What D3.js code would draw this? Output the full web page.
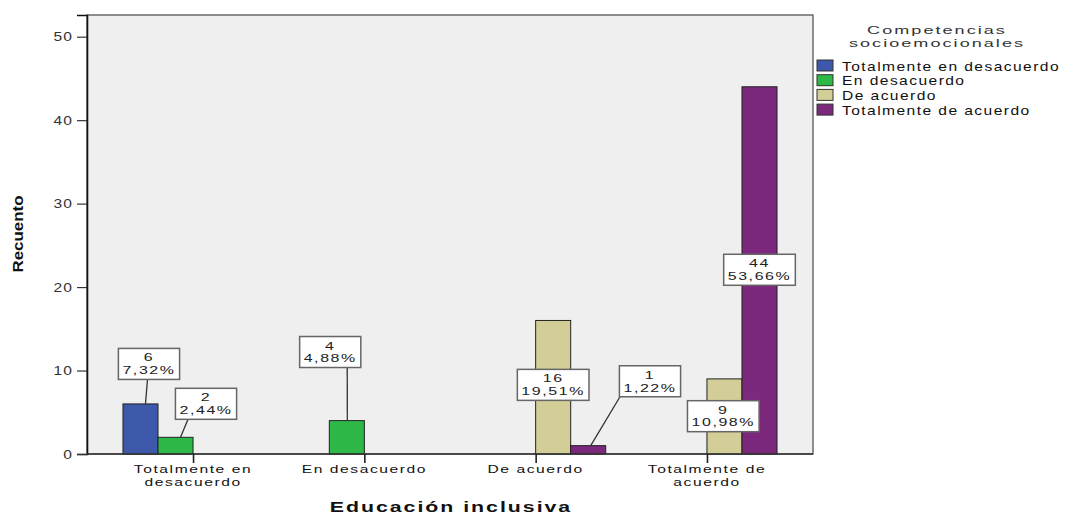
<!DOCTYPE html>
<html>
<head>
<meta charset="utf-8">
<script src="https://cdn.jsdelivr.net/npm/d3@7"></script>
<style>
  html, body { margin: 0; padding: 0; background: #ffffff; }
  svg { display: block; font-family: "Liberation Sans", Arial, sans-serif; }
</style>
</head>
<body>
<svg id="chart" width="1066" height="515"></svg>
<script>
// ---------- data ----------
const categories = ["Totalmente en desacuerdo", "En desacuerdo", "De acuerdo", "Totalmente de acuerdo"];
const categoryLabelLines = [["Totalmente en", "desacuerdo"], ["En desacuerdo"], ["De acuerdo"], ["Totalmente de", "acuerdo"]];
const seriesNames = ["Totalmente en desacuerdo", "En desacuerdo", "De acuerdo", "Totalmente de acuerdo"];
const totalmenteEnDesacuerdo = [6, 0, 0, 0];
const enDesacuerdo = [2, 4, 0, 0];
const deAcuerdo = [0, 0, 16, 9];
const totalmenteDeAcuerdo = [0, 0, 1, 44];
const percentLabels = [
  ["7,32%", null, null, null],
  ["2,44%", "4,88%", null, null],
  [null, null, "19,51%", "10,98%"],
  [null, null, "1,22%", "53,66%"]
];
const yTicks = [0, 10, 20, 30, 40, 50];
const legendTitle = ["Competencias", "socioemocionales"];
const xTitle = "Educación inclusiva";
const yTitle = "Recuento";

const seriesValues = [totalmenteEnDesacuerdo, enDesacuerdo, deAcuerdo, totalmenteDeAcuerdo];
const colors = ["#3e58ac", "#2eb848", "#d3ce97", "#7c287d"];

// callout layout (box offset from bar top-centre; leader start / end offsets)
const callouts = {
  "0-0": { dx: 8.5, dy: -40, ls: 5, le: -1.5, leader: true },
  "1-0": { dx: 30.5, dy: -33.5, ls: 5, le: -18, leader: true },
  "1-1": { dx: -16.6, dy: -68.6, ls: 0.5, le: 17, leader: true },
  "2-2": { dx: 0, dy: 64.4, leader: false },
  "3-2": { dx: 61.8, dy: -64.4, ls: 2.5, le: -30, leader: true },
  "2-3": { dx: -1.2, dy: 37.3, leader: false },
  "3-3": { dx: 0, dy: 183, leader: false }
};

// ---------- layout ----------
const svg = d3.select("#chart");
const plot = { left: 87, right: 813, top: 15, bottom: 454 };
const SX = 1.3;   // horizontal glyph stretch of the original rendering
const LS = 1.1;   // letter spacing of the original rendering

const x = d3.scalePoint().domain(categories).range([plot.left, plot.right]).padding(0.619);
const barW = x.step() * 0.2045;
const y = d3.scaleLinear().domain([0, 52.6]).range([plot.bottom, plot.top]);

function stext(g, tx, ty, lines, opts) {
  const o = Object.assign({ size: 12, weight: "normal", anchor: "middle", sx: SX, rot: 0, fill: "#111", ls: LS, lh: 11 }, opts || {});
  if (!Array.isArray(lines)) lines = [lines];
  let tr = `translate(${tx},${ty})`;
  if (o.rot) tr += ` rotate(${o.rot})`;
  tr += ` scale(${o.sx},1)`;
  const t = g.append("text")
    .attr("transform", tr)
    .attr("text-anchor", o.anchor)
    .attr("font-size", o.size)
    .attr("font-weight", o.weight)
    .attr("letter-spacing", o.ls)
    .attr("fill", o.fill);
  lines.forEach((ln, i) => {
    t.append("tspan").attr("x", 0).attr("y", i * o.lh).text(ln);
  });
  return t;
}

// plot background
svg.append("rect")
  .attr("x", plot.left).attr("y", plot.top)
  .attr("width", plot.right - plot.left).attr("height", plot.bottom - plot.top)
  .attr("fill", "#efefef").attr("stroke", "#555").attr("stroke-width", 1.3);

// y axis
const yAxisG = svg.append("g").attr("transform", `translate(${plot.left},0)`)
  .call(d3.axisLeft(y).tickValues(yTicks).tickSize(10).tickPadding(4).tickFormat(d3.format("d")));
yAxisG.select(".domain").attr("stroke", "#111").attr("stroke-width", 1.6);
yAxisG.selectAll(".tick line").attr("stroke", "#333").attr("stroke-width", 1.2);
yAxisG.selectAll(".tick text").remove();
yTicks.forEach(t => {
  stext(svg, plot.left - 14, y(t) + 4.5, String(t), { anchor: "end", fill: "#333", ls: 0.8 });
});

// bars
const barsG = svg.append("g");
seriesValues.forEach((vals, si) => {
  vals.forEach((v, ci) => {
    if (!v) return;
    const cx = x(categories[ci]) + (si - 2) * barW;
    barsG.append("rect")
      .attr("x", cx).attr("y", y(v))
      .attr("width", barW).attr("height", y(0) - y(v))
      .attr("fill", colors[si]).attr("stroke", "#222").attr("stroke-width", 1);
  });
});

// x axis line + ticks
const xAxisG = svg.append("g").attr("transform", `translate(0,${plot.bottom})`)
  .call(d3.axisBottom(x).tickSize(9).tickSizeOuter(0).tickFormat(""));
xAxisG.select(".domain").attr("stroke", "#333").attr("stroke-width", 1.3)
  .attr("d", `M${plot.left},0H${plot.right}`);
xAxisG.selectAll(".tick line").attr("stroke", "#222").attr("stroke-width", 1.6);

categories.forEach((c, ci) => {
  stext(svg, x(c), 473, categoryLabelLines[ci], { size: 11, sx: 1.42, fill: "#111", lh: 12.8 });
});

// callouts
const calG = svg.append("g");
seriesValues.forEach((vals, si) => {
  vals.forEach((v, ci) => {
    if (!v) return;
    const lay = callouts[`${si}-${ci}`];
    if (!lay) return;
    const bcx = x(categories[ci]) + (si - 2) * barW + barW / 2;
    const bty = y(v);
    const boxCx = bcx + lay.dx, boxCy = bty + lay.dy;
    const g = calG.append("g");
    const t = stext(g, boxCx, boxCy - 2.5, [String(v), percentLabels[si][ci]], { size: 11, sx: 1.45, fill: "#222", lh: 12.8 });
    let maxW = 0;
    t.selectAll("tspan").each(function () { maxW = Math.max(maxW, this.getComputedTextLength()); });
    const w = maxW * 1.45 + 8;
    const h = 31;
    if (lay.leader) {
      g.insert("line", ":first-child")
        .attr("x1", bcx + lay.ls).attr("y1", bty)
        .attr("x2", boxCx + lay.le).attr("y2", boxCy + h / 2)
        .attr("stroke", "#333").attr("stroke-width", 1.3);
    }
    g.insert("rect", "text")
      .attr("x", boxCx - w / 2).attr("y", boxCy - h / 2)
      .attr("width", w).attr("height", h)
      .attr("fill", "#fff").attr("stroke", "#666").attr("stroke-width", 1.5);
  });
});

// axis titles
stext(svg, 451, 512, xTitle, { size: 15, weight: "bold", sx: 1.42, ls: 1.4, fill: "#111" });
stext(svg, 23, 234, yTitle, { size: 15, weight: "bold", sx: 1.13, ls: 0, rot: -90, fill: "#111" });

// legend
const lg = svg.append("g");
stext(lg, 937, 34, legendTitle, { size: 11.5, sx: 1.57, ls: 1.3, fill: "#333", lh: 13.4 });
seriesNames.forEach((n, i) => {
  const yy = 66 + i * 14.7;
  lg.append("rect").attr("x", 817).attr("y", yy - 6).attr("width", 16).attr("height", 11)
    .attr("fill", colors[i]).attr("stroke", "#333").attr("stroke-width", 1);
  stext(lg, 842, yy + 4.5, n, { anchor: "start", fill: "#111" });
});
</script>
</body>
</html>
